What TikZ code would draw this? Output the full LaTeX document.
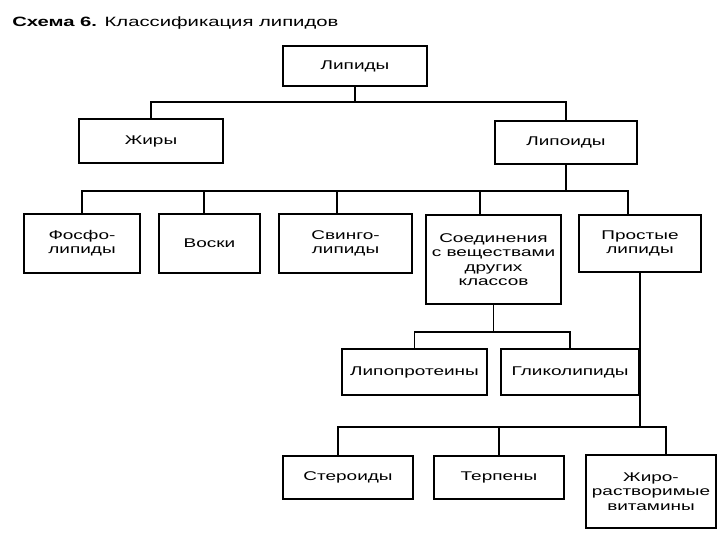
\documentclass[tikz,border=0pt]{standalone}
\usepackage{fontspec}
\setmainfont{Liberation Sans}[FakeStretch=1.5]
\usetikzlibrary{positioning}

\begin{document}
\begin{tikzpicture}[x=0.025cm, y=-0.025cm, node distance=0.425cm, main/.style = {draw, line width=1.4pt, align=center, inner sep=2pt, font=\fontsize{9}{10.2}\selectfont, anchor=north}, link/.style={line width=0.9pt}]
\useasboundingbox (0,0) rectangle (720,540);

\node[anchor=base west, inner sep=0pt, font=\fontsize{9.6}{11}\selectfont] (title) at (12,26) {\textbf{Схема 6.} Классификация липидов};

\node[main, minimum width=3.6cm, minimum height=1cm] (lip) at (355,45) {Липиды};
\node[main, minimum width=3.6cm, minimum height=1.1cm] (zhir) at (151,118) {Жиры};
\node[main, minimum width=3.55cm, minimum height=1.075cm] (lpd) at (566,120) {Липоиды};

\node[main, minimum width=2.9cm, minimum height=1.475cm] (fos) at (82,213) {Фосфо-\\липиды};
\node[main, minimum width=2.525cm, minimum height=1.475cm] (vos) [right=of fos] {Воски};
\node[main, minimum width=3.325cm, minimum height=1.475cm] (svi) [right=of vos] {Свинго-\\липиды};
\node[main, minimum width=3.375cm, minimum height=2.225cm] (soe) at (493.5,214) {Соединения\\с веществами\\других\\классов};
\node[main, minimum width=3.05cm, minimum height=1.425cm] (pro) at (640,214) {Простые\\липиды};

\node[main, minimum width=3.625cm, minimum height=1.15cm] (lpp) at (414.5,348) {Липопротеины};
\node[main, minimum width=3.45cm, minimum height=1.15cm] (gli) [right=0.3cm of lpp] {Гликолипиды};

\node[main, minimum width=3.25cm, minimum height=1.075cm] (ste) at (348,455) {Стероиды};
\node[main, minimum width=3.25cm, minimum height=1.075cm] (ter) [right=0.475cm of ste] {Терпены};
\node[main, minimum width=3.25cm, minimum height=1.825cm] (zhv) at (651,454) {Жиро-\\растворимые\\витамины};

% tree lines
\draw[link] (lip.south) -- ++(0,15) -| (zhir.north);
\draw[link] (lip.south) -- ++(0,15) -| (lpd.north);
\draw[link] (lpd.south) -- ++(0,26) -| (fos.north);
\draw[link] (lpd.south) -- ++(0,26) -| ([xshift=-0.14cm]vos.north);
\draw[link] (lpd.south) -- ++(0,26) -| ([xshift=-0.21cm]svi.north);
\draw[link] (lpd.south) -- ++(0,26) -| ([xshift=-0.34cm]soe.north);
\draw[link] (lpd.south) -- ++(0,26) -| ([xshift=-0.3cm]pro.north);
\draw[link] (soe.south) -- ++(0,27) -| (lpp.north);
\draw[link] (soe.south) -- ++(0,27) -| (gli.north);
\draw[link] (pro.south) -- ++(0,154) -| ([xshift=-0.25cm]ste.north);
\draw[link] (pro.south) -- ++(0,154) -| (ter.north);
\draw[link] (pro.south) -- ++(0,154) -| ([xshift=0.375cm]zhv.north);
\end{tikzpicture}
\end{document}
